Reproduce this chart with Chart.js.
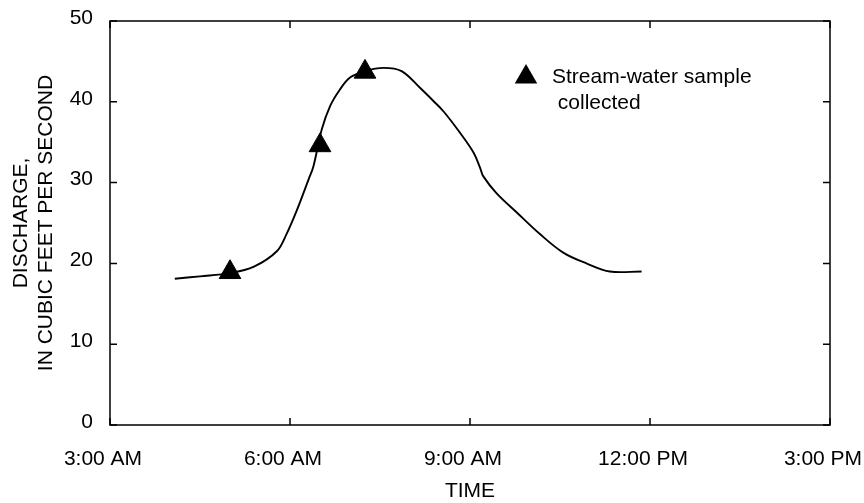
<!DOCTYPE html>
<html>
<head>
<meta charset="utf-8">
<script src="https://cdn.jsdelivr.net/npm/chart.js@4/dist/chart.umd.min.js"></script>
<style>
  html, body { margin: 0; padding: 0; background: #fff; }
  #wrap { width: 864px; height: 503px; position: relative; }
</style>
</head>
<body>
<div id="wrap"><canvas id="c" width="864" height="503"></canvas></div>
<script>
// Hour of day (decimal) and discharge, cubic feet per second
const dischargeTimes = [4.08, 4.5, 5.0, 5.4, 5.78, 5.94, 6.11, 6.31, 6.39, 6.53, 6.67, 6.83, 7.0, 7.25, 7.56, 7.86, 8.17, 8.39, 8.56, 8.83, 9.06, 9.17, 9.22, 9.44, 9.78, 10.17, 10.56, 10.94, 11.33, 11.86];
const dischargeValues = [18.1, 18.4, 18.8, 19.6, 21.5, 23.6, 26.5, 30.4, 32.0, 36.6, 39.5, 41.5, 43.0, 43.8, 44.2, 43.8, 41.7, 40.1, 38.8, 36.2, 33.7, 31.8, 30.8, 28.7, 26.3, 23.6, 21.3, 20.0, 19.0, 19.0];
const sampleTimes = [5.0, 6.5, 7.25];
const sampleValues = [18.9, 34.6, 43.7];
const xTickValues = [3, 6, 9, 12, 15];
const xTickLabels = ['3:00 AM', '6:00 AM', '9:00 AM', '12:00 PM', '3:00 PM'];
const yTickValues = [0, 10, 20, 30, 40, 50];
const legendLines = ['Stream-water sample', ' collected'];
const yTitleLines = ['DISCHARGE,', 'IN CUBIC FEET PER SECOND'];
const xTitle = 'TIME';

const FONT = '"Liberation Sans", Arial, Helvetica, sans-serif';
const FS = 21;

const framePlugin = {
  id: 'frame',
  afterDatasetsDraw(chart) {
    const {ctx, chartArea: a, scales} = chart;
    ctx.save();
    ctx.strokeStyle = '#000';
    ctx.lineWidth = 1.5;
    ctx.strokeRect(a.left, a.top, a.right - a.left, a.bottom - a.top);
    const tl = 7;
    ctx.beginPath();
    xTickValues.forEach(v => {
      const px = scales.x.getPixelForValue(v);
      ctx.moveTo(px, a.bottom); ctx.lineTo(px, a.bottom - tl);
      ctx.moveTo(px, a.top); ctx.lineTo(px, a.top + tl);
    });
    yTickValues.forEach(v => {
      const py = scales.y.getPixelForValue(v);
      ctx.moveTo(a.left, py); ctx.lineTo(a.left + tl, py);
      ctx.moveTo(a.right, py); ctx.lineTo(a.right - tl, py);
    });
    ctx.stroke();
    ctx.restore();
  },
  afterDraw(chart) {
    const {ctx, chartArea: a} = chart;
    ctx.save();
    // legend glyph
    const cx = a.left + 416, cy = a.top + 56, r = 13;
    ctx.fillStyle = '#000';
    ctx.beginPath();
    ctx.moveTo(cx, cy - r);
    ctx.lineTo(cx + r * Math.sin(2 * Math.PI / 3), cy + r / 2);
    ctx.lineTo(cx - r * Math.sin(2 * Math.PI / 3), cy + r / 2);
    ctx.closePath();
    ctx.fill();
    ctx.font = FS + 'px ' + FONT;
    ctx.textBaseline = 'alphabetic';
    ctx.textAlign = 'left';
    ctx.fillText(legendLines[0], a.left + 442, a.top + 62);
    ctx.fillText(legendLines[1], a.left + 442, a.top + 88);
    ctx.restore();
  }
};

new Chart(document.getElementById('c'), {
  type: 'scatter',
  data: {
    datasets: [
      {
        label: 'Samples',
        data: sampleTimes.map((t, i) => ({x: t, y: sampleValues[i]})),
        pointStyle: 'triangle',
        pointRadius: 12.5,
        pointHoverRadius: 12.5,
        backgroundColor: '#000',
        borderColor: '#000',
        borderWidth: 1,
        showLine: false,
        order: 0
      },
      {
        label: 'Discharge',
        data: dischargeTimes.map((t, i) => ({x: t, y: dischargeValues[i]})),
        showLine: true,
        borderColor: '#000',
        borderWidth: 1.9,
        pointRadius: 0,
        pointHoverRadius: 0,
        tension: 0.35,
        fill: false,
        order: 1
      }
    ]
  },
  options: {
    responsive: false,
    animation: false,
    events: [],
    layout: { padding: { top: 21, right: 34, left: 0, bottom: 0 } },
    plugins: { legend: { display: false }, tooltip: { enabled: false } },
    scales: {
      x: {
        type: 'linear',
        min: 3, max: 15,
        afterFit(scale) { scale.height = 78; scale.paddingLeft = 0; scale.paddingRight = 0; },
        afterBuildTicks(scale) { scale.ticks = xTickValues.map(v => ({value: v})); },
        grid: { display: false, drawTicks: false },
        border: { display: false },
        ticks: {
          padding: 22,
          labelOffset: -7,
          maxRotation: 0,
          autoSkip: false,
          color: '#000',
          font: { family: FONT, size: FS },
          callback: (v) => xTickLabels[xTickValues.indexOf(v)]
        },
        title: {
          display: true,
          text: xTitle,
          color: '#000',
          font: { family: FONT, size: FS, lineHeight: 1.1 },
          padding: { top: 0, bottom: 0 }
        }
      },
      y: {
        min: 0, max: 50,
        afterFit(scale) { scale.width = 110; scale.paddingTop = 0; scale.paddingBottom = 0; },
        afterBuildTicks(scale) { scale.ticks = yTickValues.map(v => ({value: v})); },
        grid: { display: false, drawTicks: false },
        border: { display: false },
        ticks: {
          padding: 17,
          labelOffset: -3,
          color: '#000',
          font: { family: FONT, size: FS },
          callback: (v) => String(v)
        },
        title: {
          display: true,
          text: yTitleLines,
          color: '#000',
          font: { family: FONT, size: FS, lineHeight: 1.2 },
          padding: { top: 8.4, bottom: 0 }
        }
      }
    }
  },
  plugins: [framePlugin]
});
</script>
</body>
</html>
